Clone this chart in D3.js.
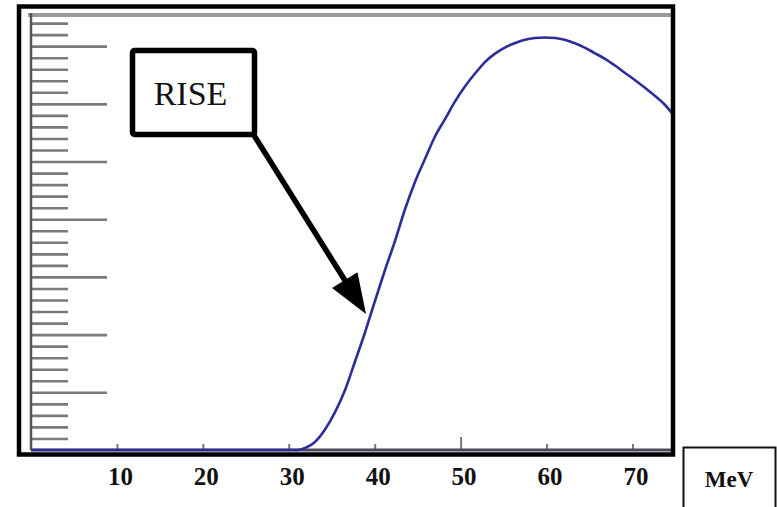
<!DOCTYPE html>
<html>
<head>
<meta charset="utf-8">
<script src="https://cdn.jsdelivr.net/npm/d3@7"></script>
<style>
  html, body { margin: 0; padding: 0; background: #fff; }
  svg { display: block; }
</style>
</head>
<body>
<svg id="chart" width="777" height="507"></svg>
<script>
// ---- data (energy in MeV, counts in arbitrary units) ----
const energy = [0, 31.0, 31.9, 33.05, 34.2, 35.4, 36.55, 37.7, 38.9, 40.0, 41.2, 42.4, 43.5, 44.7, 45.9,
  47.0, 48.2, 49.3, 50.5, 51.7, 52.8, 54.0, 55.2, 56.3, 57.5, 58.65, 59.8, 61.0, 62.1, 63.3, 64.5,
  65.6, 66.8, 68.0, 69.1, 70.3, 71.45, 72.6, 73.8, 74.6];
const counts = [0, 0, 0.035, 0.14, 0.35, 0.66, 1.04, 1.53, 2.05, 2.57, 3.12, 3.64, 4.16, 4.65, 5.06,
  5.43, 5.74, 6.03, 6.30, 6.53, 6.72, 6.87, 6.98, 7.05, 7.11, 7.14, 7.15, 7.14, 7.11, 7.05, 6.97,
  6.88, 6.78, 6.66, 6.54, 6.41, 6.28, 6.14, 5.98, 5.84];
const xTickValues = [10, 20, 30, 40, 50, 60, 70];
const xTickLabels = ["10", "20", "30", "40", "50", "60", "70"];
const xMajorTicks = [50];
const xUnit = "MeV";
const annotationText = "RISE";

// ---- layout ----
const svg = d3.select("#chart");
const plot = { left: 31, right: 672, top: 15, bottom: 450 };
const x = d3.scaleLinear().domain([0, 74.6]).range([plot.left, plot.right]);
const y = d3.scaleLinear().domain([0, 7.54]).range([plot.bottom, plot.top]);

svg.append("rect").attr("width", 777).attr("height", 507).attr("fill", "#fff");

// y minor / major ticks (drawn to the right of the axis)
const minorY = d3.range(1, 38).map(i => i * 0.2).filter(v => Math.round(v * 5) % 5 !== 0);
const majorY = d3.range(1, 8);
const yMinorAxis = d3.axisLeft(y).tickValues(minorY).tickSize(-37).tickFormat("");
const yMajorAxis = d3.axisLeft(y).tickValues(majorY).tickSize(-76).tickFormat("");
[yMinorAxis, yMajorAxis].forEach(ax => {
  const g = svg.append("g").attr("transform", `translate(${plot.left},0)`).call(ax);
  g.select(".domain").remove();
  g.selectAll(".tick line").attr("stroke", "#7a7a7a").attr("stroke-width", 2.6);
});

// top grey border of plot
svg.append("line").attr("x1", plot.left - 3).attr("x2", plot.right).attr("y1", plot.top).attr("y2", plot.top)
  .attr("stroke", "#9a9a9a").attr("stroke-width", 4);

// y axis line
svg.append("line").attr("x1", plot.left).attr("x2", plot.left).attr("y1", plot.top - 2).attr("y2", plot.bottom)
  .attr("stroke", "#555").attr("stroke-width", 2.5);

// x ticks (upward from axis)
const xMinorAxis = d3.axisBottom(x).tickValues(xTickValues.filter(v => !xMajorTicks.includes(v))).tickSize(-6).tickFormat("");
const xMajorAxis = d3.axisBottom(x).tickValues(xMajorTicks).tickSize(-13).tickFormat("");
[xMinorAxis, xMajorAxis].forEach(ax => {
  const g = svg.append("g").attr("transform", `translate(0,${plot.bottom})`).call(ax);
  g.select(".domain").remove();
  g.selectAll(".tick line").attr("stroke", "#777").attr("stroke-width", 2);
});

// x axis line
svg.append("line").attr("x1", plot.left).attr("x2", plot.right).attr("y1", plot.bottom).attr("y2", plot.bottom)
  .attr("stroke", "#4a4a5e").attr("stroke-width", 3);

// curve
const pts = energy.map((e, i) => [e, counts[i]]);
const line = d3.line().x(d => x(d[0])).y(d => y(d[1])).curve(d3.curveMonotoneX);
svg.append("path").datum(pts).attr("d", line).attr("fill", "none")
  .attr("stroke", "#2d2d9a").attr("stroke-width", 2.6).attr("stroke-linejoin", "round");

// outer black frame
svg.append("rect").attr("x", 19).attr("y", 6.5).attr("width", 654).attr("height", 448)
  .attr("fill", "none").attr("stroke", "#000").attr("stroke-width", 4.5);

// x tick labels
svg.append("g").selectAll("text").data(xTickValues).join("text")
  .attr("x", d => x(d) + 3.5).attr("y", 485)
  .attr("text-anchor", "middle")
  .attr("font-family", "'Liberation Serif', 'Times New Roman', serif")
  .attr("font-weight", "bold").attr("font-size", 25).attr("fill", "#111")
  .text((d, i) => xTickLabels[i]);

// unit box
svg.append("rect").attr("x", 683.5).attr("y", 447.5).attr("width", 92).attr("height", 64)
  .attr("fill", "#fff").attr("stroke", "#111").attr("stroke-width", 2);
svg.append("text").attr("x", 729).attr("y", 487).attr("text-anchor", "middle")
  .attr("font-family", "'Liberation Serif', 'Times New Roman', serif")
  .attr("font-weight", "bold").attr("font-size", 23).attr("fill", "#111").text(xUnit);

// annotation: RISE box and arrow
const box = { x: 132.5, y: 50.5, w: 122, h: 84 };
const tip = [366, 314];
const start = [box.x + box.w - 1, box.y + box.h];
const dx = tip[0] - start[0], dy = tip[1] - start[1];
const len = Math.hypot(dx, dy);
const ux = dx / len, uy = dy / len;
const headLen = 40, headW = 30;
const base = [tip[0] - ux * headLen, tip[1] - uy * headLen];
svg.append("line").attr("x1", start[0]).attr("y1", start[1])
  .attr("x2", base[0] + ux * 4).attr("y2", base[1] + uy * 4)
  .attr("stroke", "#000").attr("stroke-width", 5.5);
svg.append("polygon").attr("points", [
  tip,
  [base[0] - uy * headW / 2, base[1] + ux * headW / 2],
  [base[0] + uy * headW / 2, base[1] - ux * headW / 2]
].map(p => p.join(",")).join(" ")).attr("fill", "#000");
svg.append("rect").attr("x", box.x).attr("y", box.y).attr("width", box.w).attr("height", box.h)
  .attr("rx", 2).attr("fill", "#fff").attr("stroke", "#000").attr("stroke-width", 5.5);
svg.append("text").attr("x", box.x + box.w / 2 - 3).attr("y", 105).attr("text-anchor", "middle")
  .attr("font-family", "'Liberation Serif', 'Times New Roman', serif")
  .attr("font-size", 34).attr("fill", "#111").text(annotationText);
</script>
</body>
</html>
